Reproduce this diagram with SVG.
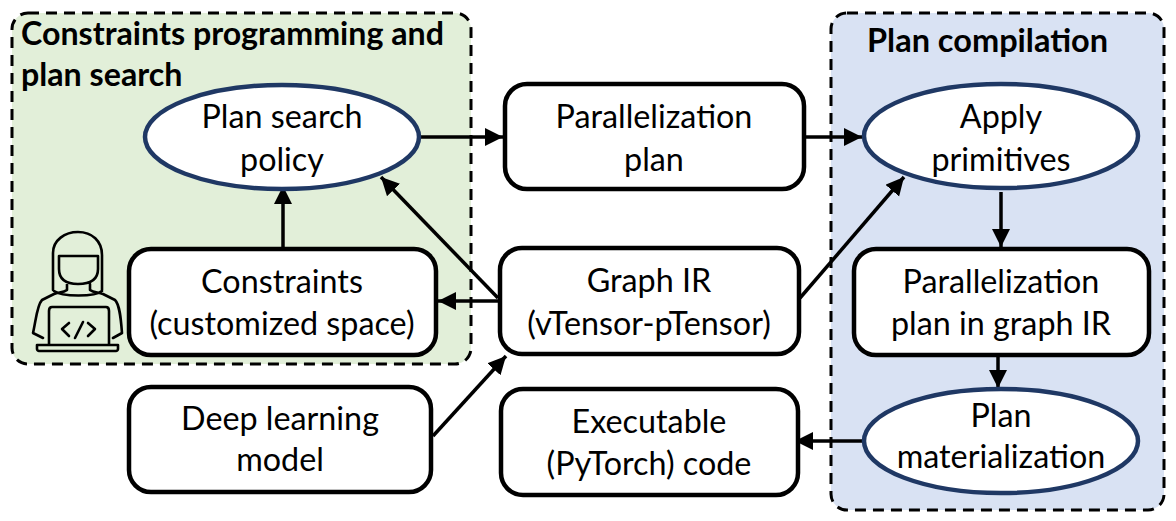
<svg xmlns="http://www.w3.org/2000/svg" width="1176" height="521" viewBox="0 0 1176 521">
<style>
text{font-family:"Lato","Open Sans","Liberation Sans",sans-serif;fill:#000;text-anchor:middle}
.l{font-size:32.3px}
.t{font-size:32.2px;font-weight:700;text-anchor:start}
.g{stroke:#000;stroke-width:3;stroke-dasharray:11 7}
.b{fill:#fff;stroke:#000;stroke-width:4.5}
.e{fill:#fff;stroke:#1f3864;stroke-width:4.5}
.c{fill:none;stroke:#000;stroke-width:3.5;marker-end:url(#a)}
.i{fill:none;stroke:#000;stroke-width:2.6;stroke-linecap:round;stroke-linejoin:round}
</style>
<defs><marker id="a" markerUnits="userSpaceOnUse" markerWidth="20" markerHeight="20" refX="18" refY="9" orient="auto"><path d="M0 0L18 9L0 18Z" fill="#000"/></marker></defs>
<rect width="1176" height="521" fill="#fff"/>
<g id="group-search"><rect class="g" x="12" y="13" width="459" height="351" rx="16" fill="#e2efd9"/><text class="t" x="21" y="45">Constraints programming and</text><text class="t" x="21" y="86">plan search</text></g>
<g id="group-compile"><rect class="g" x="831" y="13" width="333" height="497" rx="16" fill="#d9e2f3"/><text class="t" x="867" y="52" style="font-size:32.5px">Plan compilation</text></g>
<g id="connectors">
<path class="c" d="M419 137H503"/>
<path class="c" d="M805 137H862"/>
<path class="c" d="M283 248V186"/>
<path class="c" d="M498 298L381 177"/>
<path class="c" d="M499 301H438"/>
<path class="c" d="M800 298L904 177"/>
<path class="c" d="M433 436L506 356"/>
<path class="c" d="M1001 192V247"/>
<path class="c" d="M998 356V388"/>
<path class="c" d="M864 441H795"/>
</g>
<g id="user"><path class="i" d="M53 290V253C53 240 65 232 78 232C92 232 102 241 102 255V290M59 256H98V269C98 281 88 284 78 284C68 284 59 281 59 269ZM67 284V290C63 293 58 292 54 294L42 300C37 305 36 320 33 333L43 338M90 284V290C94 293 98 292 103 294L115 300C120 305 121 320 122 333L113 338M54 291C62 297 95 297 102 291M49 345V311C49 308 50 307 52 307H106C108 307 109 308 109 311V345M37 345H118V349C118 350 117 351 116 351H39C38 351 37 350 37 349Z"/><path class="i" d="M69 323L62 329L69 336M88 323L95 329L88 336M83 322L75 338"/></g>
<g id="plan-search"><ellipse class="e" cx="282" cy="137" rx="137" ry="52"/><text class="l" x="282" y="128">Plan search</text><text class="l" x="282" y="171">policy</text></g>
<g id="parallelization-plan"><rect class="b" x="505" y="84" width="299" height="105" rx="22"/><text class="l" x="654" y="128">Parallelization</text><text class="l" x="654" y="171">plan</text></g>
<g id="apply"><ellipse class="e" cx="1001" cy="136" rx="137" ry="52"/><text class="l" x="1001" y="128">Apply</text><text class="l" x="1001" y="171">primitives</text></g>
<g id="constraints"><rect class="b" x="129" y="249" width="307" height="106" rx="22"/><text class="l" x="282" y="293">Constraints</text><text class="l" x="282" y="335">(customized space)</text></g>
<g id="graph-ir"><rect class="b" x="500" y="248" width="299" height="106" rx="22"/><text class="l" x="649" y="292">Graph IR</text><text class="l" x="649" y="335">(vTensor-pTensor)</text></g>
<g id="plan-in-ir"><rect class="b" x="854" y="249" width="295" height="106" rx="22"/><text class="l" x="1001" y="293">Parallelization</text><text class="l" x="1001" y="335">plan in graph IR</text></g>
<g id="deep-learning"><rect class="b" x="129" y="387" width="302" height="105" rx="22"/><text class="l" x="280" y="430">Deep learning</text><text class="l" x="280" y="471">model</text></g>
<g id="executable"><rect class="b" x="501" y="389" width="297" height="106" rx="22"/><text class="l" x="649" y="433">Executable</text><text class="l" x="649" y="475">(PyTorch) code</text></g>
<g id="materialization"><ellipse class="e" cx="1001" cy="441" rx="137" ry="52"/><text class="l" x="1001" y="427">Plan</text><text class="l" x="1001" y="468">materialization</text></g>
</svg>
